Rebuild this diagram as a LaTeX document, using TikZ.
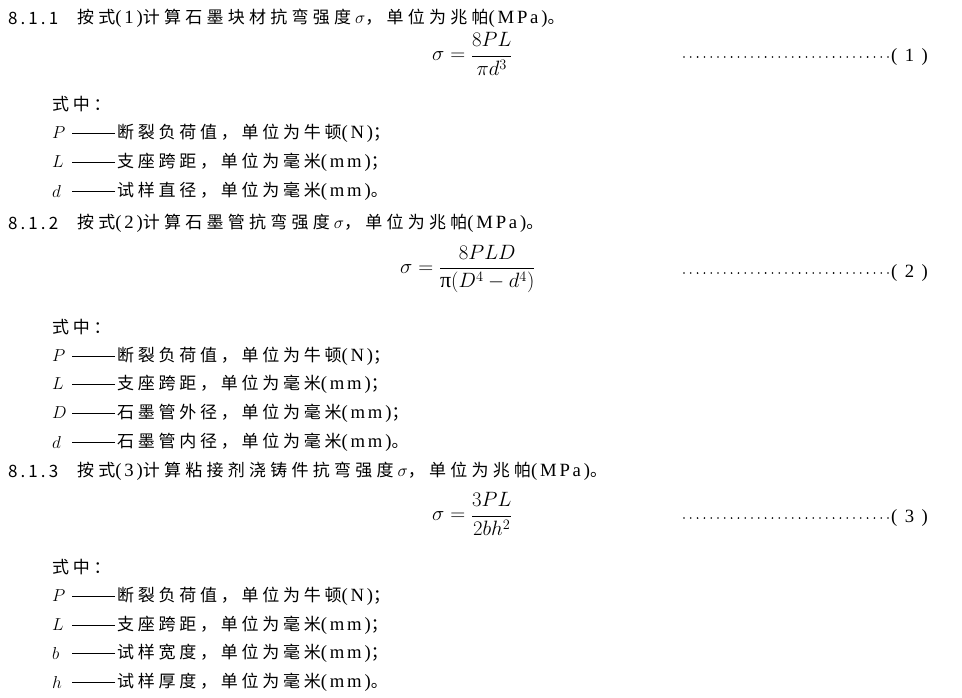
\documentclass[tikz,border=0pt]{standalone}
\usepackage{fontspec}
\setmainfont{Liberation Serif}[Scale=1.1, LetterSpace=15]
\newfontfamily\cjk[LetterSpace=22]{Noto Sans CJK SC}
\newfontfamily\cjkhead[LetterSpace=25]{Noto Sans CJK SC}
\newfontfamily\hei[LetterSpace=18]{Noto Sans CJK SC}
\newcommand\zh[1]{{\cjk #1}}
\newcommand\zhh[1]{{\cjkhead #1}}
\tikzset{
  txt/.style={anchor=west, inner sep=0pt, font=\fontsize{17}{20}\selectfont},
  var/.style={anchor=west, inner sep=0pt, font=\fontsize{18}{21}\selectfont},
  num/.style={anchor=west, inner sep=0pt, font=\hei\fontsize{17}{20}\selectfont},
  eq/.style={anchor=west, inner sep=0pt, font=\fontsize{20}{24}\selectfont},
  rule/.style={line width=0.6pt},
  leader/.style={line width=1.8pt, line cap=round, dash pattern=on 0pt off 6.8pt}
}
% one row of the "where" list: name, y, symbol, text
\newcommand\vrow[4]{%
  \node[var] (v#1) at (52,#2) {$#3$};
  \node[txt] (t#1) at (117,#2) {#4};
  \draw[rule] (t#1.west) ++(-2,0) -- ++(-43,0);}
% formula number with leader dots
\newcommand\eqtag[3]{%
  \coordinate (d#1) at (684,#2);
  \node[txt] (n#1) at (891,#2) {( #3 )};
  \draw[leader] (d#1) -- ([xshift=-2pt]n#1.west);}
\begin{document}
\begin{tikzpicture}[x=1pt,y=-1pt]
  \useasboundingbox (0,0) rectangle (962,697);

  % 8.1.1
  \node[num] (s1) at (8,18) {8.1.1};
  \node[txt] (h1) at (77,18) {\zhh{按式}(1)\zhh{计算石墨块材抗弯强度}\hspace{4pt}$\sigma$\zhh{，单位为兆帕}(MPa)\zhh{。}};
  \node[eq] (f1) at (432,54) {$\displaystyle\sigma=\frac{8PL}{\pi d^{3}}$};
  \eqtag{1}{57}{1}
  \node[txt] (w1) at (52,104) {\zh{式中：}};
  \vrow{P1}{133}{P}{\zh{断裂负荷值，单位为牛顿}(N)\zh{；}}
  \vrow{L1}{162}{L}{\zh{支座跨距，单位为毫米}(mm)\zh{；}}
  \vrow{d1}{191}{d}{\zh{试样直径，单位为毫米}(mm)\zh{。}}

  % 8.1.2
  \node[num] (s2) at (8,223) {8.1.2};
  \node[txt] (h2) at (77,223) {\zhh{按式}(2)\zhh{计算石墨管抗弯强度}\hspace{4pt}$\sigma$\zhh{，单位为兆帕}(MPa)\zhh{。}};
  \node[eq] (f2) at (400,269) {$\displaystyle\sigma=\frac{8PLD}{\mbox{π}(D^{4}-d^{4})}$};
  \eqtag{2}{273}{2}
  \node[txt] (w2) at (52,327) {\zh{式中：}};
  \vrow{P2}{356}{P}{\zh{断裂负荷值，单位为牛顿}(N)\zh{；}}
  \vrow{L2}{384}{L}{\zh{支座跨距，单位为毫米}(mm)\zh{；}}
  \vrow{D2}{413}{D}{\zh{石墨管外径，单位为毫米}(mm)\zh{；}}
  \vrow{d2}{442}{d}{\zh{石墨管内径，单位为毫米}(mm)\zh{。}}

  % 8.1.3
  \node[num] (s3) at (8,471) {8.1.3};
  \node[txt] (h3) at (77,471) {\zhh{按式}(3)\zhh{计算粘接剂浇铸件抗弯强度}\hspace{4pt}$\sigma$\zhh{，单位为兆帕}(MPa)\zhh{。}};
  \node[eq] (f3) at (432,514) {$\displaystyle\sigma=\frac{3PL}{2bh^{2}}$};
  \eqtag{3}{518}{3}
  \node[txt] (w3) at (52,567) {\zh{式中：}};
  \vrow{P3}{596}{P}{\zh{断裂负荷值，单位为牛顿}(N)\zh{；}}
  \vrow{L3}{625}{L}{\zh{支座跨距，单位为毫米}(mm)\zh{；}}
  \vrow{b3}{653}{b}{\zh{试样宽度，单位为毫米}(mm)\zh{；}}
  \vrow{h3}{682}{h}{\zh{试样厚度，单位为毫米}(mm)\zh{。}}
\end{tikzpicture}
\end{document}
